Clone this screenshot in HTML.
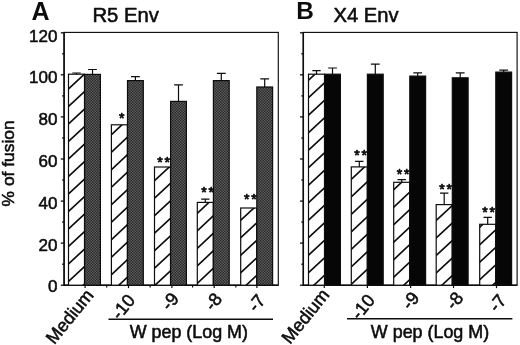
<!DOCTYPE html>
<html><head><meta charset="utf-8"><title>Figure</title>
<style>html,body{margin:0;padding:0;background:#fff}svg{display:block;filter:blur(0.35px)}text{font-family:"Liberation Sans", sans-serif;fill:#0d0d0d}</style>
</head><body>
<svg width="520" height="345" viewBox="0 0 520 345">
<defs>
<pattern id="dots" patternUnits="userSpaceOnUse" width="1.6" height="1.6">
<rect width="1.6" height="1.6" fill="#121212"/>
<rect x="0" y="0" width="0.68" height="0.68" fill="#989898"/>
<rect x="0.8" y="0.8" width="0.68" height="0.68" fill="#989898"/>
</pattern>
</defs>
<rect width="520" height="345" fill="#fff"/>

<rect x="64.1" y="32.4" width="214.20000000000002" height="252.8" fill="none" stroke="#0d0d0d" stroke-width="1.15"/>
<path d="M64.1 32.4V285.2H278.3" stroke="#0d0d0d" stroke-width="1.5" fill="none"/>
<line x1="60.8" y1="285.2" x2="64.1" y2="285.2" stroke="#0d0d0d" stroke-width="1.3"/>
<line x1="62.099999999999994" y1="264.2" x2="64.1" y2="264.2" stroke="#0d0d0d" stroke-width="1.3"/>
<line x1="60.8" y1="243.1" x2="64.1" y2="243.1" stroke="#0d0d0d" stroke-width="1.3"/>
<line x1="62.099999999999994" y1="222.1" x2="64.1" y2="222.1" stroke="#0d0d0d" stroke-width="1.3"/>
<line x1="60.8" y1="201.1" x2="64.1" y2="201.1" stroke="#0d0d0d" stroke-width="1.3"/>
<line x1="62.099999999999994" y1="180.0" x2="64.1" y2="180.0" stroke="#0d0d0d" stroke-width="1.3"/>
<line x1="60.8" y1="159.0" x2="64.1" y2="159.0" stroke="#0d0d0d" stroke-width="1.3"/>
<line x1="62.099999999999994" y1="138.0" x2="64.1" y2="138.0" stroke="#0d0d0d" stroke-width="1.3"/>
<line x1="60.8" y1="116.9" x2="64.1" y2="116.9" stroke="#0d0d0d" stroke-width="1.3"/>
<line x1="62.099999999999994" y1="95.9" x2="64.1" y2="95.9" stroke="#0d0d0d" stroke-width="1.3"/>
<line x1="60.8" y1="74.8" x2="64.1" y2="74.8" stroke="#0d0d0d" stroke-width="1.3"/>
<line x1="62.099999999999994" y1="53.8" x2="64.1" y2="53.8" stroke="#0d0d0d" stroke-width="1.3"/>
<line x1="60.8" y1="32.8" x2="64.1" y2="32.8" stroke="#0d0d0d" stroke-width="1.3"/>
<line x1="85.1" y1="285.2" x2="85.1" y2="288.09999999999997" stroke="#0d0d0d" stroke-width="1.2"/>
<line x1="106.7" y1="285.2" x2="106.7" y2="287.4" stroke="#0d0d0d" stroke-width="1.2"/>
<line x1="128.5" y1="285.2" x2="128.5" y2="288.09999999999997" stroke="#0d0d0d" stroke-width="1.2"/>
<line x1="150.2" y1="285.2" x2="150.2" y2="287.4" stroke="#0d0d0d" stroke-width="1.2"/>
<line x1="171.9" y1="285.2" x2="171.9" y2="288.09999999999997" stroke="#0d0d0d" stroke-width="1.2"/>
<line x1="192.6" y1="285.2" x2="192.6" y2="287.4" stroke="#0d0d0d" stroke-width="1.2"/>
<line x1="214.2" y1="285.2" x2="214.2" y2="288.09999999999997" stroke="#0d0d0d" stroke-width="1.2"/>
<line x1="235.8" y1="285.2" x2="235.8" y2="287.4" stroke="#0d0d0d" stroke-width="1.2"/>
<line x1="256.9" y1="285.2" x2="256.9" y2="288.09999999999997" stroke="#0d0d0d" stroke-width="1.2"/>
<clipPath id="c1"><rect x="68.5" y="74.2" width="16.0" height="211.0"/></clipPath>
<rect x="68.5" y="74.2" width="16.0" height="211.0" fill="#fff"/>
<path clip-path="url(#c1)" d="M66.5 55.8L86.5 37.2M66.5 73.3L86.5 54.7M66.5 90.8L86.5 72.2M66.5 108.3L86.5 89.7M66.5 125.8L86.5 107.2M66.5 143.3L86.5 124.7M66.5 160.8L86.5 142.2M66.5 178.3L86.5 159.7M66.5 195.8L86.5 177.2M66.5 213.3L86.5 194.7M66.5 230.8L86.5 212.2M66.5 248.3L86.5 229.7M66.5 265.8L86.5 247.2M66.5 283.3L86.5 264.7M66.5 300.8L86.5 282.2" stroke="#0d0d0d" stroke-width="1.65" fill="none"/>
<rect x="68.5" y="74.2" width="16.0" height="211.0" fill="none" stroke="#0d0d0d" stroke-width="1.2"/>
<path d="M76.5 74.2V73.0M72.3 73.0H80.7" stroke="#0d0d0d" stroke-width="1.2" fill="none"/>
<rect x="84.6" y="74.4" width="15.8" height="210.8" fill="url(#dots)" stroke="#0d0d0d" stroke-width="1.2"/>
<path d="M92.5 74.4V69.5M88.1 69.5H96.9" stroke="#0d0d0d" stroke-width="1.2" fill="none"/>
<clipPath id="c2"><rect x="111.4" y="124.8" width="16.0" height="160.4"/></clipPath>
<rect x="111.4" y="124.8" width="16.0" height="160.4" fill="#fff"/>
<path clip-path="url(#c2)" d="M109.4 101.5L129.4 82.9M109.4 119.0L129.4 100.4M109.4 136.5L129.4 117.9M109.4 154.0L129.4 135.4M109.4 171.5L129.4 152.9M109.4 189.0L129.4 170.4M109.4 206.5L129.4 187.9M109.4 224.0L129.4 205.4M109.4 241.5L129.4 222.9M109.4 259.0L129.4 240.4M109.4 276.5L129.4 257.9M109.4 294.0L129.4 275.4" stroke="#0d0d0d" stroke-width="1.65" fill="none"/>
<rect x="111.4" y="124.8" width="16.0" height="160.4" fill="none" stroke="#0d0d0d" stroke-width="1.2"/>
<rect x="127.5" y="80.6" width="15.8" height="204.6" fill="url(#dots)" stroke="#0d0d0d" stroke-width="1.2"/>
<path d="M135.4 80.6V76.6M131.0 76.6H139.8" stroke="#0d0d0d" stroke-width="1.2" fill="none"/>
<clipPath id="c3"><rect x="154.5" y="167.0" width="16.0" height="118.2"/></clipPath>
<rect x="154.5" y="167.0" width="16.0" height="118.2" fill="#fff"/>
<path clip-path="url(#c3)" d="M152.5 147.6L172.5 129.0M152.5 165.1L172.5 146.5M152.5 182.6L172.5 164.0M152.5 200.1L172.5 181.5M152.5 217.6L172.5 199.0M152.5 235.1L172.5 216.5M152.5 252.6L172.5 234.0M152.5 270.1L172.5 251.5M152.5 287.6L172.5 269.0" stroke="#0d0d0d" stroke-width="1.65" fill="none"/>
<rect x="154.5" y="167.0" width="16.0" height="118.2" fill="none" stroke="#0d0d0d" stroke-width="1.2"/>
<rect x="170.6" y="101.4" width="15.8" height="183.8" fill="url(#dots)" stroke="#0d0d0d" stroke-width="1.2"/>
<path d="M178.5 101.4V84.9M174.1 84.9H182.9" stroke="#0d0d0d" stroke-width="1.2" fill="none"/>
<clipPath id="c4"><rect x="197.3" y="202.4" width="16.0" height="82.8"/></clipPath>
<rect x="197.3" y="202.4" width="16.0" height="82.8" fill="#fff"/>
<path clip-path="url(#c4)" d="M195.3 180.1L215.3 161.5M195.3 197.6L215.3 179.0M195.3 215.1L215.3 196.5M195.3 232.6L215.3 214.0M195.3 250.1L215.3 231.5M195.3 267.6L215.3 249.0M195.3 285.1L215.3 266.5M195.3 302.6L215.3 284.0" stroke="#0d0d0d" stroke-width="1.65" fill="none"/>
<rect x="197.3" y="202.4" width="16.0" height="82.8" fill="none" stroke="#0d0d0d" stroke-width="1.2"/>
<path d="M205.3 202.4V199.1M201.1 199.1H209.5" stroke="#0d0d0d" stroke-width="1.2" fill="none"/>
<rect x="213.4" y="80.6" width="15.8" height="204.6" fill="url(#dots)" stroke="#0d0d0d" stroke-width="1.2"/>
<path d="M221.3 80.6V73.3M216.9 73.3H225.7" stroke="#0d0d0d" stroke-width="1.2" fill="none"/>
<clipPath id="c5"><rect x="240.7" y="208.0" width="16.0" height="77.2"/></clipPath>
<rect x="240.7" y="208.0" width="16.0" height="77.2" fill="#fff"/>
<path clip-path="url(#c5)" d="M238.7 187.2L258.7 168.6M238.7 204.7L258.7 186.1M238.7 222.2L258.7 203.6M238.7 239.7L258.7 221.1M238.7 257.2L258.7 238.6M238.7 274.7L258.7 256.1M238.7 292.2L258.7 273.6" stroke="#0d0d0d" stroke-width="1.65" fill="none"/>
<rect x="240.7" y="208.0" width="16.0" height="77.2" fill="none" stroke="#0d0d0d" stroke-width="1.2"/>
<rect x="256.8" y="87.0" width="15.8" height="198.2" fill="url(#dots)" stroke="#0d0d0d" stroke-width="1.2"/>
<path d="M264.7 87.0V78.9M260.3 78.9H269.1" stroke="#0d0d0d" stroke-width="1.2" fill="none"/>
<text x="122.6" y="122.8" font-size="14" letter-spacing="1.85" text-anchor="middle" stroke="#0d0d0d" stroke-width="0.75" stroke-linejoin="round">*</text>
<text x="164.6" y="166.5" font-size="14" letter-spacing="1.85" text-anchor="middle" stroke="#0d0d0d" stroke-width="0.75" stroke-linejoin="round">**</text>
<text x="208.5" y="197.3" font-size="14" letter-spacing="1.85" text-anchor="middle" stroke="#0d0d0d" stroke-width="0.75" stroke-linejoin="round">**</text>
<text x="251.3" y="204.0" font-size="14" letter-spacing="1.85" text-anchor="middle" stroke="#0d0d0d" stroke-width="0.75" stroke-linejoin="round">**</text>
<rect x="303.3" y="32.4" width="213.8" height="252.8" fill="none" stroke="#0d0d0d" stroke-width="1.15"/>
<path d="M303.3 32.4V285.2H517.1" stroke="#0d0d0d" stroke-width="1.5" fill="none"/>
<line x1="300.0" y1="285.2" x2="303.3" y2="285.2" stroke="#0d0d0d" stroke-width="1.3"/>
<line x1="301.3" y1="264.2" x2="303.3" y2="264.2" stroke="#0d0d0d" stroke-width="1.3"/>
<line x1="300.0" y1="243.1" x2="303.3" y2="243.1" stroke="#0d0d0d" stroke-width="1.3"/>
<line x1="301.3" y1="222.1" x2="303.3" y2="222.1" stroke="#0d0d0d" stroke-width="1.3"/>
<line x1="300.0" y1="201.1" x2="303.3" y2="201.1" stroke="#0d0d0d" stroke-width="1.3"/>
<line x1="301.3" y1="180.0" x2="303.3" y2="180.0" stroke="#0d0d0d" stroke-width="1.3"/>
<line x1="300.0" y1="159.0" x2="303.3" y2="159.0" stroke="#0d0d0d" stroke-width="1.3"/>
<line x1="301.3" y1="138.0" x2="303.3" y2="138.0" stroke="#0d0d0d" stroke-width="1.3"/>
<line x1="300.0" y1="116.9" x2="303.3" y2="116.9" stroke="#0d0d0d" stroke-width="1.3"/>
<line x1="301.3" y1="95.9" x2="303.3" y2="95.9" stroke="#0d0d0d" stroke-width="1.3"/>
<line x1="300.0" y1="74.8" x2="303.3" y2="74.8" stroke="#0d0d0d" stroke-width="1.3"/>
<line x1="301.3" y1="53.8" x2="303.3" y2="53.8" stroke="#0d0d0d" stroke-width="1.3"/>
<line x1="300.0" y1="32.8" x2="303.3" y2="32.8" stroke="#0d0d0d" stroke-width="1.3"/>
<line x1="324.3" y1="285.2" x2="324.3" y2="288.09999999999997" stroke="#0d0d0d" stroke-width="1.2"/>
<line x1="367.4" y1="285.2" x2="367.4" y2="288.09999999999997" stroke="#0d0d0d" stroke-width="1.2"/>
<line x1="410.6" y1="285.2" x2="410.6" y2="288.09999999999997" stroke="#0d0d0d" stroke-width="1.2"/>
<line x1="453.5" y1="285.2" x2="453.5" y2="288.09999999999997" stroke="#0d0d0d" stroke-width="1.2"/>
<line x1="496.5" y1="285.2" x2="496.5" y2="288.09999999999997" stroke="#0d0d0d" stroke-width="1.2"/>
<clipPath id="c6"><rect x="308.5" y="74.2" width="16.0" height="211.0"/></clipPath>
<rect x="308.5" y="74.2" width="16.0" height="211.0" fill="#fff"/>
<path clip-path="url(#c6)" d="M306.5 47.1L326.5 28.5M306.5 64.6L326.5 46.0M306.5 82.1L326.5 63.5M306.5 99.6L326.5 81.0M306.5 117.1L326.5 98.5M306.5 134.6L326.5 116.0M306.5 152.1L326.5 133.5M306.5 169.6L326.5 151.0M306.5 187.1L326.5 168.5M306.5 204.6L326.5 186.0M306.5 222.1L326.5 203.5M306.5 239.6L326.5 221.0M306.5 257.1L326.5 238.5M306.5 274.6L326.5 256.0M306.5 292.1L326.5 273.5" stroke="#0d0d0d" stroke-width="1.65" fill="none"/>
<rect x="308.5" y="74.2" width="16.0" height="211.0" fill="none" stroke="#0d0d0d" stroke-width="1.2"/>
<path d="M316.5 74.2V70.7M312.3 70.7H320.7" stroke="#0d0d0d" stroke-width="1.2" fill="none"/>
<rect x="324.6" y="74.2" width="15.8" height="211.0" fill="#060606" stroke="#0d0d0d" stroke-width="1.2"/>
<path d="M332.5 74.2V68.0M328.1 68.0H336.9" stroke="#0d0d0d" stroke-width="1.2" fill="none"/>
<clipPath id="c7"><rect x="351.3" y="166.9" width="16.0" height="118.3"/></clipPath>
<rect x="351.3" y="166.9" width="16.0" height="118.3" fill="#fff"/>
<path clip-path="url(#c7)" d="M349.3 146.1L369.3 127.5M349.3 163.6L369.3 145.0M349.3 181.1L369.3 162.5M349.3 198.6L369.3 180.0M349.3 216.1L369.3 197.5M349.3 233.6L369.3 215.0M349.3 251.1L369.3 232.5M349.3 268.6L369.3 250.0M349.3 286.1L369.3 267.5M349.3 303.6L369.3 285.0" stroke="#0d0d0d" stroke-width="1.65" fill="none"/>
<rect x="351.3" y="166.9" width="16.0" height="118.3" fill="none" stroke="#0d0d0d" stroke-width="1.2"/>
<path d="M359.3 166.9V161.3M355.1 161.3H363.5" stroke="#0d0d0d" stroke-width="1.2" fill="none"/>
<rect x="367.4" y="74.2" width="15.8" height="211.0" fill="#060606" stroke="#0d0d0d" stroke-width="1.2"/>
<path d="M375.3 74.2V64.1M370.9 64.1H379.7" stroke="#0d0d0d" stroke-width="1.2" fill="none"/>
<clipPath id="c8"><rect x="393.7" y="182.3" width="16.0" height="102.9"/></clipPath>
<rect x="393.7" y="182.3" width="16.0" height="102.9" fill="#fff"/>
<path clip-path="url(#c8)" d="M391.7 156.5L411.7 137.9M391.7 174.0L411.7 155.4M391.7 191.5L411.7 172.9M391.7 209.0L411.7 190.4M391.7 226.5L411.7 207.9M391.7 244.0L411.7 225.4M391.7 261.5L411.7 242.9M391.7 279.0L411.7 260.4M391.7 296.5L411.7 277.9" stroke="#0d0d0d" stroke-width="1.65" fill="none"/>
<rect x="393.7" y="182.3" width="16.0" height="102.9" fill="none" stroke="#0d0d0d" stroke-width="1.2"/>
<path d="M401.7 182.3V179.6M397.5 179.6H405.9" stroke="#0d0d0d" stroke-width="1.2" fill="none"/>
<rect x="409.8" y="76.1" width="15.8" height="209.1" fill="#060606" stroke="#0d0d0d" stroke-width="1.2"/>
<path d="M417.7 76.1V72.8M413.3 72.8H422.1" stroke="#0d0d0d" stroke-width="1.2" fill="none"/>
<clipPath id="c9"><rect x="436.2" y="204.6" width="16.0" height="80.6"/></clipPath>
<rect x="436.2" y="204.6" width="16.0" height="80.6" fill="#fff"/>
<path clip-path="url(#c9)" d="M434.2 187.4L454.2 168.8M434.2 204.9L454.2 186.3M434.2 222.4L454.2 203.8M434.2 239.9L454.2 221.3M434.2 257.4L454.2 238.8M434.2 274.9L454.2 256.3M434.2 292.4L454.2 273.8" stroke="#0d0d0d" stroke-width="1.65" fill="none"/>
<rect x="436.2" y="204.6" width="16.0" height="80.6" fill="none" stroke="#0d0d0d" stroke-width="1.2"/>
<path d="M444.2 204.6V193.1M440.0 193.1H448.4" stroke="#0d0d0d" stroke-width="1.2" fill="none"/>
<rect x="452.3" y="77.8" width="15.8" height="207.4" fill="#060606" stroke="#0d0d0d" stroke-width="1.2"/>
<path d="M460.2 77.8V72.8M455.8 72.8H464.6" stroke="#0d0d0d" stroke-width="1.2" fill="none"/>
<clipPath id="c10"><rect x="479.7" y="224.3" width="16.0" height="60.9"/></clipPath>
<rect x="479.7" y="224.3" width="16.0" height="60.9" fill="#fff"/>
<path clip-path="url(#c10)" d="M477.7 194.1L497.7 175.5M477.7 211.6L497.7 193.0M477.7 229.1L497.7 210.5M477.7 246.6L497.7 228.0M477.7 264.1L497.7 245.5M477.7 281.6L497.7 263.0M477.7 299.1L497.7 280.5" stroke="#0d0d0d" stroke-width="1.65" fill="none"/>
<rect x="479.7" y="224.3" width="16.0" height="60.9" fill="none" stroke="#0d0d0d" stroke-width="1.2"/>
<path d="M487.7 224.3V217.3M483.5 217.3H491.9" stroke="#0d0d0d" stroke-width="1.2" fill="none"/>
<rect x="495.8" y="72.1" width="15.8" height="213.1" fill="#060606" stroke="#0d0d0d" stroke-width="1.2"/>
<path d="M503.7 72.1V70.2M499.3 70.2H508.1" stroke="#0d0d0d" stroke-width="1.2" fill="none"/>
<text x="361.5" y="160.0" font-size="14" letter-spacing="1.85" text-anchor="middle" stroke="#0d0d0d" stroke-width="0.75" stroke-linejoin="round">**</text>
<text x="404.1" y="179.0" font-size="14" letter-spacing="1.85" text-anchor="middle" stroke="#0d0d0d" stroke-width="0.75" stroke-linejoin="round">**</text>
<text x="446.6" y="194.0" font-size="14" letter-spacing="1.85" text-anchor="middle" stroke="#0d0d0d" stroke-width="0.75" stroke-linejoin="round">**</text>
<text x="489.6" y="216.5" font-size="14" letter-spacing="1.85" text-anchor="middle" stroke="#0d0d0d" stroke-width="0.75" stroke-linejoin="round">**</text>
<text x="57.4" y="41.6" font-size="17" text-anchor="end" stroke="#0d0d0d" stroke-width="0.55" stroke-linejoin="round">120</text>
<text x="57.4" y="83.4" font-size="17" text-anchor="end" stroke="#0d0d0d" stroke-width="0.55" stroke-linejoin="round">100</text>
<text x="57.4" y="125.1" font-size="17" text-anchor="end" stroke="#0d0d0d" stroke-width="0.55" stroke-linejoin="round">80</text>
<text x="57.4" y="166.9" font-size="17" text-anchor="end" stroke="#0d0d0d" stroke-width="0.55" stroke-linejoin="round">60</text>
<text x="57.4" y="208.7" font-size="17" text-anchor="end" stroke="#0d0d0d" stroke-width="0.55" stroke-linejoin="round">40</text>
<text x="57.4" y="250.5" font-size="17" text-anchor="end" stroke="#0d0d0d" stroke-width="0.55" stroke-linejoin="round">20</text>
<text x="57.4" y="292.2" font-size="17" text-anchor="end" stroke="#0d0d0d" stroke-width="0.55" stroke-linejoin="round">0</text>
<text transform="translate(14.3,163.4) rotate(-90)" font-size="17.4" text-anchor="middle" stroke="#0d0d0d" stroke-width="0.55" stroke-linejoin="round">% of fusion</text>
<text x="31.6" y="19.6" font-size="25" font-weight="bold">A</text>
<text x="92.4" y="22" font-size="20.3" stroke="#0d0d0d" stroke-width="0.55" stroke-linejoin="round">R5 Env</text>
<text x="296.2" y="18.7" font-size="24.2" font-weight="bold" textLength="17.6" lengthAdjust="spacingAndGlyphs">B</text>
<text x="333.5" y="22" font-size="20.2" stroke="#0d0d0d" stroke-width="0.55" stroke-linejoin="round">X4 Env</text>
<text transform="translate(94.5,295.5) rotate(-51)" font-size="18.0" text-anchor="end" stroke="#0d0d0d" stroke-width="0.55" stroke-linejoin="round">Medium</text>
<text transform="translate(136.0,300.5) rotate(-51)" font-size="18.0" text-anchor="end" stroke="#0d0d0d" stroke-width="0.55" stroke-linejoin="round">-10</text>
<text transform="translate(179.7,299.0) rotate(-51)" font-size="18.0" text-anchor="end" stroke="#0d0d0d" stroke-width="0.55" stroke-linejoin="round">-9</text>
<text transform="translate(223.0,299.3) rotate(-51)" font-size="18.0" text-anchor="end" stroke="#0d0d0d" stroke-width="0.55" stroke-linejoin="round">-8</text>
<text transform="translate(266.4,300.6) rotate(-51)" font-size="18.0" text-anchor="end" stroke="#0d0d0d" stroke-width="0.55" stroke-linejoin="round">-7</text>
<text transform="translate(330.3,295.2) rotate(-51)" font-size="18.0" text-anchor="end" stroke="#0d0d0d" stroke-width="0.55" stroke-linejoin="round">Medium</text>
<text transform="translate(375.9,300.5) rotate(-51)" font-size="18.0" text-anchor="end" stroke="#0d0d0d" stroke-width="0.55" stroke-linejoin="round">-10</text>
<text transform="translate(420.2,298.3) rotate(-51)" font-size="18.0" text-anchor="end" stroke="#0d0d0d" stroke-width="0.55" stroke-linejoin="round">-9</text>
<text transform="translate(464.2,298.3) rotate(-51)" font-size="18.0" text-anchor="end" stroke="#0d0d0d" stroke-width="0.55" stroke-linejoin="round">-8</text>
<text transform="translate(507.2,300.6) rotate(-51)" font-size="18.0" text-anchor="end" stroke="#0d0d0d" stroke-width="0.55" stroke-linejoin="round">-7</text>
<line x1="108.5" y1="319.3" x2="273" y2="319.3" stroke="#0d0d0d" stroke-width="1.5"/>
<line x1="347" y1="318.8" x2="512.4" y2="318.8" stroke="#0d0d0d" stroke-width="1.5"/>
<text x="188.8" y="338.3" font-size="17.9" text-anchor="middle" stroke="#0d0d0d" stroke-width="0.55" stroke-linejoin="round">W pep (Log M)</text>
<text x="430" y="338.2" font-size="17.9" text-anchor="middle" stroke="#0d0d0d" stroke-width="0.55" stroke-linejoin="round">W pep (Log M)</text>
</svg></body></html>
